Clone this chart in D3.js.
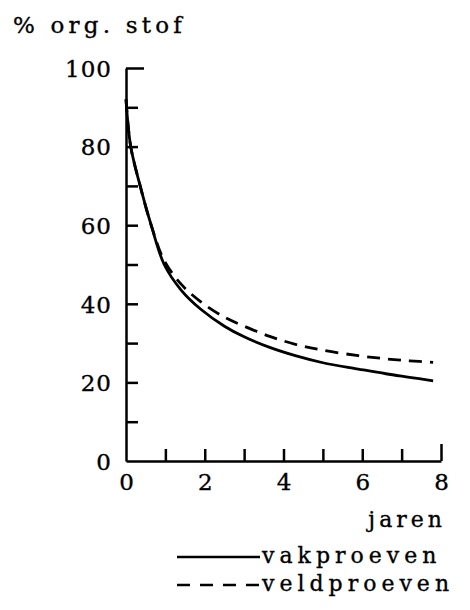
<!DOCTYPE html>
<html>
<head>
<meta charset="utf-8">
<title>% org. stof</title>
<script src="https://d3js.org/d3.v7.min.js"></script>
<style>
body { margin: 0; background: #fff; }
text { font-family: "DejaVu Serif", serif; fill: #000; stroke: #000; stroke-width: 0.35px; }
.axis path, .axis line { stroke: #000; stroke-width: 2.5px; }
.curve { fill: none; stroke: #000; stroke-width: 2.8px; }
</style>
</head>
<body>
<script>
// jaren (years) and % organic matter remaining
var jaren = [0, 0.12, 0.36, 0.64, 0.97, 1.4, 1.9, 2.5, 3, 3.65, 4.3, 5, 5.9, 6.6, 7.2, 7.8];
var vakproeven = [92, 80, 70, 60, 50, 43.5, 38.6, 34.3, 31.6, 28.9, 26.8, 25, 23.4, 22.2, 21.3, 20.4];
var veldproeven = [92, 80, 70, 60, 51, 45, 40.5, 36.6, 34.3, 31.7, 29.7, 28.2, 26.8, 26, 25.5, 25.1];
var yTicks = [0, 20, 40, 60, 80, 100];
var xTicks = [0, 2, 4, 6, 8];

var width = 470, height = 610;
var svg = d3.select("body").append("svg")
    .attr("width", width)
    .attr("height", height);

var x = d3.scaleLinear().domain([0, 8]).range([126, 441]);
var y = d3.scaleLinear().domain([0, 100]).range([461, 68]);

// y axis: minor ticks every 10, pointing inward
svg.append("g")
    .attr("class", "axis")
    .attr("transform", "translate(" + x(0) + ",0)")
    .call(d3.axisLeft(y).tickValues(d3.range(10, 100, 10)).tickSize(-12).tickSizeOuter(0).tickFormat(""));
// longer tick at 100
svg.append("g")
    .attr("class", "axis")
    .attr("transform", "translate(" + x(0) + ",0)")
    .call(d3.axisLeft(y).tickValues([100]).tickSize(-18).tickSizeOuter(0).tickFormat(""))
    .select(".domain").remove();
// y labels
var yl = svg.append("g")
    .attr("transform", "translate(" + (x(0) - 14) + ",0)")
    .call(d3.axisLeft(y).tickValues(yTicks).tickSize(0).tickPadding(0));
yl.select(".domain").remove();
yl.selectAll("text").attr("font-size", 23).attr("font-family", "DejaVu Serif")
    .style("letter-spacing", "1px").attr("dy", "0.36em");

// x axis: ticks every year pointing up
svg.append("g")
    .attr("class", "axis")
    .attr("transform", "translate(0," + y(0) + ")")
    .call(d3.axisBottom(x).tickValues(d3.range(1, 8)).tickSize(-12).tickSizeOuter(0).tickFormat(""));
svg.append("g")
    .attr("class", "axis")
    .attr("transform", "translate(0," + y(0) + ")")
    .call(d3.axisBottom(x).tickValues([8]).tickSize(-17).tickSizeOuter(0).tickFormat(""))
    .select(".domain").remove();
var xl = svg.append("g")
    .attr("transform", "translate(0," + (y(0) + 9) + ")")
    .call(d3.axisBottom(x).tickValues(xTicks).tickSize(0).tickPadding(0));
xl.select(".domain").remove();
xl.selectAll("text").attr("font-size", 23).attr("font-family", "DejaVu Serif").attr("dy", "0.85em");

// curves
var line = d3.line()
    .x(function(d) { return x(d[0]); })
    .y(function(d) { return y(d[1]); })
    .curve(d3.curveCatmullRom.alpha(0.5));

svg.append("path")
    .datum(jaren.map(function(j, i) { return [j, veldproeven[i]]; }))
    .attr("class", "curve")
    .attr("stroke-dasharray", "13,8")
    .attr("d", line);
svg.append("path")
    .datum(jaren.map(function(j, i) { return [j, vakproeven[i]]; }))
    .attr("class", "curve")
    .attr("d", line);

// titles
svg.append("text")
    .attr("x", 13).attr("y", 33)
    .attr("font-size", 23)
    .style("letter-spacing", "4.2px")
    .text("% org. stof");
svg.append("text")
    .attr("x", 446).attr("y", 527)
    .attr("text-anchor", "end")
    .attr("font-size", 22)
    .style("letter-spacing", "4px")
    .text("jaren");

// legend
var legend = svg.append("g");
var items = [["vakproeven", null, 557], ["veldproeven", "13,10", 585]];
items.forEach(function(it) {
  legend.append("line")
      .attr("x1", 177).attr("x2", 260)
      .attr("y1", it[2]).attr("y2", it[2])
      .attr("stroke", "#000").attr("stroke-width", 2.5)
      .attr("stroke-dasharray", it[1]);
  legend.append("text")
      .attr("x", 262).attr("y", it[2] + 6)
      .attr("font-size", 22)
      .style("letter-spacing", "5px")
      .text(it[0]);
});
</script>
</body>
</html>
